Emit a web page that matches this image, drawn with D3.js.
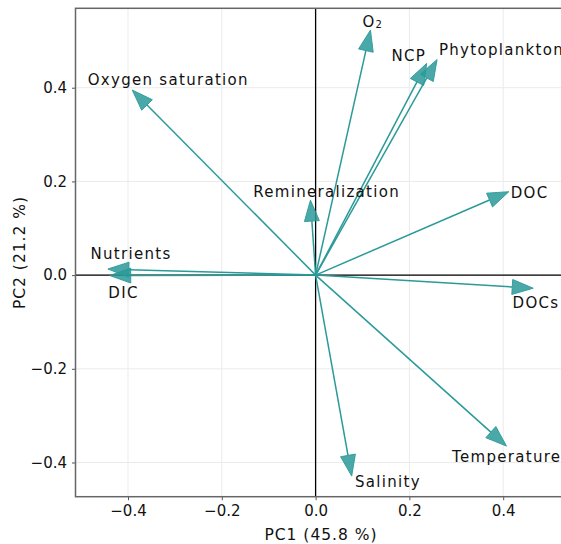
<html>
<head>
<meta charset="utf-8">
<title>PCA biplot</title>
<style>
  body { margin: 0; background: #fff; }
  text { font-family: "DejaVu Sans", sans-serif; fill: #111; }
</style>
<script src="https://d3js.org/d3.v7.min.js"></script>
</head>
<body>
<svg width="561" height="544"></svg>
<script>
// loadings (tip of each arrow)
var variables = ["O2", "NCP", "Phytoplankton", "Oxygen saturation", "Remineralization", "DOC", "Nutrients", "DIC", "DOCs", "Temperature", "Salinity"];
var pc1 = [0.117, 0.237, 0.259, -0.391, -0.011, 0.412, -0.443, -0.439, 0.464, 0.407, 0.077];
var pc2 = [0.523, 0.452, 0.460, 0.395, 0.160, 0.178, 0.013, -0.001, -0.028, -0.365, -0.429];
// where each label sits (left edge / baseline, data units)
var labelPC1 = [0.100, 0.162, 0.263, -0.486, -0.133, 0.416, -0.480, -0.442, 0.420, 0.291, 0.084];
var labelPC2 = [0.529, 0.457, 0.470, 0.405, 0.166, 0.164, 0.035, -0.048, -0.070, -0.398, -0.453];

var xTicks = [-0.4, -0.2, 0.0, 0.2, 0.4];
var yTicks = [-0.4, -0.2, 0.0, 0.2, 0.4];
var xLabel = "PC1 (45.8 %)";
var yLabel = "PC2 (21.2 %)";

var svg = d3.select("svg"),
    margin = {top: 8.3, right: -5.5, bottom: 47.3, left: 75.5},
    width = +svg.attr("width") - margin.left - margin.right,
    height = +svg.attr("height") - margin.top - margin.bottom,
    g = svg.append("g").attr("transform", `translate(${margin.left},${margin.top})`);

var x = d3.scaleLinear().domain([-0.512, 0.535]).range([0, width]);
var y = d3.scaleLinear().domain([-0.473, 0.5695]).range([height, 0]);

var teal = "#2a9a99";
var fmt = d => d3.format(".1f")(d).replace("-", "\u2212");

// grid
g.append("g").selectAll("line").data(xTicks).enter().append("line")
  .attr("x1", d => x(d)).attr("x2", d => x(d)).attr("y1", 0).attr("y2", height)
  .attr("stroke", "#ebebeb").attr("stroke-width", 1);
g.append("g").selectAll("line").data(yTicks).enter().append("line")
  .attr("y1", d => y(d)).attr("y2", d => y(d)).attr("x1", 0).attr("x2", width)
  .attr("stroke", "#ebebeb").attr("stroke-width", 1);

// zero lines
g.append("line").attr("x1", 0).attr("x2", width).attr("y1", y(0)).attr("y2", y(0))
  .attr("stroke", "#000").attr("stroke-width", 1.3);
g.append("line").attr("x1", x(0)).attr("x2", x(0)).attr("y1", 0).attr("y2", height)
  .attr("stroke", "#000").attr("stroke-width", 1.3);

// axes
var xAxis = g.append("g").attr("transform", `translate(0,${height})`)
  .call(d3.axisBottom(x).tickValues(xTicks).tickFormat(fmt).tickSize(3.5).tickPadding(5));
var yAxis = g.append("g")
  .call(d3.axisLeft(y).tickValues(yTicks).tickFormat(fmt).tickSize(3.5).tickPadding(5));
[xAxis, yAxis].forEach(function(a) {
  a.select(".domain").remove();
  a.selectAll(".tick line").attr("stroke", "#555");
  a.selectAll("text").attr("font-size", 15).attr("font-family", "DejaVu Sans").attr("fill", "#111");
});

// spines
g.append("rect").attr("x", 0).attr("y", 0).attr("width", width).attr("height", height)
  .attr("fill", "none").attr("stroke", "#666").attr("stroke-width", 1.5);

// arrows
var headLen = 21, headHalf = 7.5;
var data = variables.map((v, i) => ({name: v, a: pc1[i], b: pc2[i], la: labelPC1[i], lb: labelPC2[i]}));
var arrows = g.append("g").selectAll("g").data(data).enter().append("g");
arrows.each(function(d) {
  var x0 = x(0), y0 = y(0), x1 = x(d.a), y1 = y(d.b);
  var len = Math.hypot(x1 - x0, y1 - y0), ux = (x1 - x0) / len, uy = (y1 - y0) / len;
  var bx = x1 - ux * headLen, by = y1 - uy * headLen;
  var sel = d3.select(this);
  sel.append("line").attr("x1", x0).attr("y1", y0).attr("x2", bx).attr("y2", by)
    .attr("stroke", teal).attr("stroke-width", 1.5);
  sel.append("path")
    .attr("d", d3.line()([[x1, y1], [bx - uy * headHalf, by + ux * headHalf], [bx + uy * headHalf, by - ux * headHalf]]) + "Z")
    .attr("fill", teal).attr("fill-opacity", 0.85)
    .attr("stroke", teal).attr("stroke-width", 1).attr("stroke-opacity", 0.9);
});

// labels
var labels = g.append("g").selectAll("text").data(data).enter().append("text")
  .attr("x", d => x(d.la)).attr("y", d => y(d.lb))
  .attr("font-size", 15).attr("letter-spacing", 1.3);
labels.each(function(d) {
  var t = d3.select(this);
  if (d.name === "O2") {
    t.append("tspan").text("O");
    t.append("tspan").attr("font-size", 10).attr("dy", 1).text("2");
  } else {
    t.text(d.name);
  }
});

// axis titles
svg.append("text").attr("x", margin.left + width / 2).attr("y", 540)
  .attr("text-anchor", "middle").attr("font-size", 15.5).attr("letter-spacing", 1).text(xLabel);
svg.append("text").attr("transform", `translate(25,${margin.top + height / 2}) rotate(-90)`)
  .attr("text-anchor", "middle").attr("font-size", 15.5).attr("letter-spacing", 1).text(yLabel);
</script>
</body>
</html>
